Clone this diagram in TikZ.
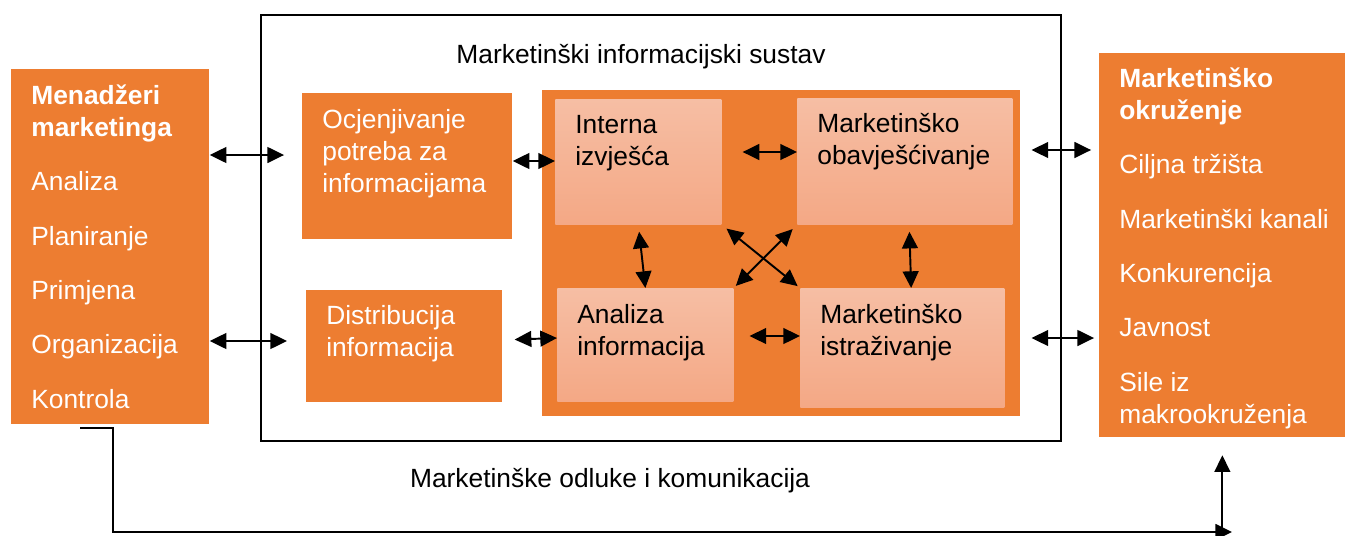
\documentclass[tikz,border=0pt]{standalone}
\usepackage{fontspec}
\setmainfont{Liberation Sans}
\usetikzlibrary{arrows.meta}
\definecolor{mkorange}{HTML}{ED7D31}
\definecolor{mklighttop}{HTML}{F6BEA4}
\definecolor{mklightbot}{HTML}{F4A885}
\newlength\pxu
\setlength\pxu{0.02cm}
\newcommand\boxtxt[4]{\parbox[t][#2\pxu][t]{#1\pxu}{\raggedright\leftskip=20\pxu
  \vspace*{\dimexpr#3\pxu-11pt\relax}\rule{0pt}{11pt}#4}}
\def\gap{\\[12.7pt]}

\begin{document}
\begin{tikzpicture}[x=0.02cm,y=-0.02cm,
    font=\fontsize{15}{18.2}\selectfont,
    box/.style={fill=mkorange,text=white,inner sep=0pt,anchor=north west},
    subbox/.style={top color=mklighttop,bottom color=mklightbot,inner sep=0pt,anchor=north west},
    link/.style={<->,>={Triangle[length=9.5pt,width=9pt]},line width=1.1pt}]
  \useasboundingbox (0,0) rectangle (1345,535);
  \node[box] (mm) at (11,69) {\boxtxt{198}{355}{35}{\textbf{Menadžeri\\marketinga}\gap Analiza\gap Planiranje\gap Primjena\gap Organizacija\gap Kontrola}};
  \draw[line width=1.4pt] (261,15) rectangle (1061,441);
  \node[anchor=base] (systitle) at (641,63) {Marketinški informacijski sustav};
  \node[box] (ocj) at (302,93) {\boxtxt{210}{146}{35}{Ocjenjivanje\\potreba za\\informacijama}};
  \node[box] (dist) at (306,290) {\boxtxt{196}{112}{34}{Distribucija\\informacija}};
  \node[box,minimum width=9.56cm,minimum height=6.52cm] (mis) at (542,90) {};
  \node[subbox] (intern) at (555,99) {\boxtxt{166}{125}{34}{Interna\\izvješća}};
  \node[subbox] (obav) at (797,98) {\boxtxt{215}{126}{34}{Marketinško\\obavješćivanje}};
  \node[subbox] (anal) at (557,288) {\boxtxt{176}{113}{35}{Analiza\\informacija}};
  \node[subbox] (istr) at (800,288) {\boxtxt{204}{119}{35}{Marketinško\\istraživanje}};
  \node[box] (okr) at (1099,53) {\boxtxt{246}{384}{34}{\textbf{Marketinško\\okruženje}\gap Ciljna tržišta\gap Marketinški kanali\gap Konkurencija\gap Javnost\gap Sile iz\\makrookruženja}};
  \node[anchor=base] (odluke) at (610,487) {Marketinške odluke i komunikacija};

  \draw[link,shorten >=10.2pt] (mm.east |- 0,155) -- (ocj.west |- 0,155);
  \draw[link,shorten >=10.8pt] (mm.east |- 0,341) -- (dist.west |- 0,341);
  \draw[link] (ocj.east |- 0,161) -- (intern.west |- 0,161);
  \draw[link,shorten <=6.8pt] (dist.east |- 0,340) -- (anal.west |- 0,338);
  \draw[link,shorten <=11.9pt] (intern.east |- 0,152) -- (obav.west |- 0,152);
  \draw[link,shorten <=9pt] (anal.east |- 0,336) -- (istr.west |- 0,336);
  \draw[link,shorten <=4pt] (intern.south) -- (anal.north);
  \draw[link,shorten <=4pt] ([xshift=2.5pt]obav.south) -- ([xshift=5pt]istr.north);
  \draw[link,shorten <=3.5pt,shorten >=1.7pt] (intern.south east) -- (istr.north west);
  \draw[link,shorten <=3.5pt,shorten >=1.7pt] (obav.south west) -- (anal.north east);
  \draw[link,shorten <=6.2pt,shorten >=4.5pt] (mis.east |- 0,150) -- (okr.west |- 0,150);
  \draw[link,shorten <=6.2pt,shorten >=2.8pt] (mis.east |- 0,338) -- (okr.west |- 0,338);

  \coordinate (fbend) at (1232,532);
  \draw[line width=1.3pt,-{Triangle[length=9.5pt,width=9pt]}] ([shift={(69,3)}]mm.south west) -- ++(33,0) |- (fbend);
  \draw[line width=1.1pt,-{Triangle[length=9.5pt,width=9pt]},shorten >=10pt] (okr.south |- fbend) -- (okr.south);
\end{tikzpicture}
\end{document}
